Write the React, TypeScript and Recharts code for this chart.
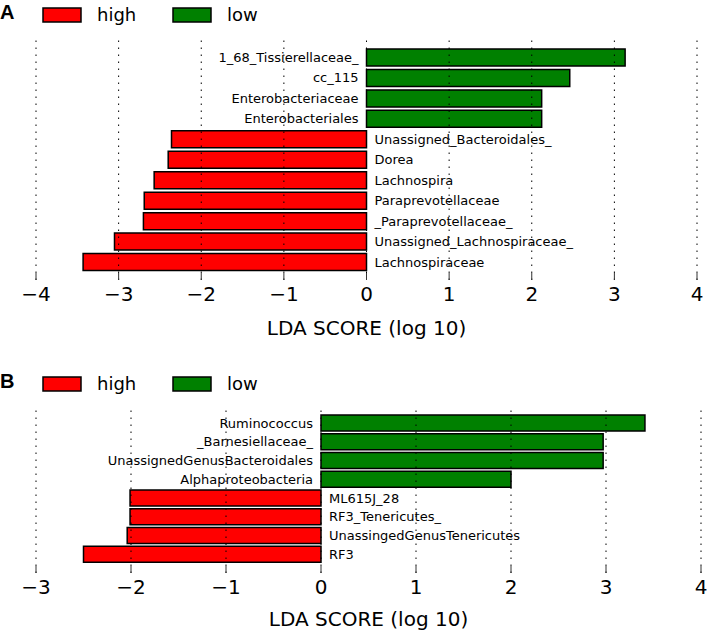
import React from "react";
import { BarChart, Bar, XAxis, YAxis, Cell, ReferenceLine, LabelList, Legend } from "recharts";

// panel A
const taxaA = [
  "1_68_Tissierellaceae_",
  "cc_115",
  "Enterobacteriaceae",
  "Enterobacteriales",
  "Unassigned_Bacteroidales_",
  "Dorea",
  "Lachnospira",
  "Paraprevotellaceae",
  "_Paraprevotellaceae_",
  "Unassigned_Lachnospiraceae_",
  "Lachnospiraceae",
];
const scoresA = [3.13, 2.46, 2.12, 2.12, -2.36, -2.4, -2.57, -2.69, -2.7, -3.05, -3.43];
const ticksA = [-4, -3, -2, -1, 0, 1, 2, 3, 4];

// panel B
const taxaB = [
  "Ruminococcus",
  "_Barnesiellaceae_",
  "UnassignedGenusBacteroidales",
  "Alphaproteobacteria",
  "ML615J_28",
  "RF3_Tenericutes_",
  "UnassingedGenusTenericutes",
  "RF3",
];
const scoresB = [3.41, 2.97, 2.97, 2.0, -2.01, -2.01, -2.04, -2.5];
const ticksB = [-3, -2, -1, 0, 1, 2, 3, 4];

const groups = ["high", "low"];
const groupColors = ["#ff0000", "#008000"];

const FONT = "DejaVu Sans";
const fmt = (v: number) => (v < 0 ? `\u2212${-v}` : `${v}`);

function LegendBox({ letter }: { letter: string }) {
  return (
    <svg width={280} height={30}>
      <text x={0} y={19} fontSize={20} fontWeight="bold" fontFamily="Liberation Sans, Arial">
        {letter}
      </text>
      {groups.map((g, i) => (
        <g key={g}>
          <rect x={43 + i * 130} y={8} width={38} height={14} fill={groupColors[i]} stroke="#000" strokeWidth={1.5} />
          <text x={97 + i * 130} y={21} fontSize={18} fontFamily={FONT} fill="#000">
            {g}
          </text>
        </g>
      ))}
    </svg>
  );
}

// top ticks point down into the plot, like the bottom ones point up
const TopTick = (props: any) => (
  <line x1={props.x} x2={props.x} y1={props.y} y2={props.y + 7} stroke="#333" strokeWidth={1} />
);

interface PanelProps {
  letter: string;
  taxa: string[];
  scores: number[];
  ticks: number[];
  height: number;
  margin: { top: number; right: number; bottom: number; left: number };
  axisHeight: number;
  barSize: number;
  padding: { top: number; bottom: number };
  legendTop: number;
  titleOffset: number;
}

function Panel(p: PanelProps) {
  const rows = p.taxa.map((name, i) => ({ name, score: p.scores[i] }));
  const domain = [p.ticks[0], p.ticks[p.ticks.length - 1]];

  const renderTaxon = (props: any) => {
    const vb = props.viewBox || props;
    const x = Number(vb.x);
    const w = Number(vb.width);
    const y = Number(vb.y);
    const h = Number(vb.height);
    const score = rows[props.index]?.score ?? 0;
    const pos = score >= 0;
    const zero = pos ? Math.min(x, x + w) : Math.max(x, x + w);
    return (
      <text
        x={pos ? zero - 8 : zero + 8}
        y={y + h / 2}
        textAnchor={pos ? "end" : "start"}
        dominantBaseline="central"
        fontSize={13}
        fontFamily={FONT}
        fill="#000"
      >
        {props.value}
      </text>
    );
  };

  return (
    <BarChart
      width={709}
      height={p.height}
      data={rows}
      layout="vertical"
      margin={p.margin}
      barSize={p.barSize}
      style={{ fontFamily: FONT }}
    >
      <XAxis
        type="number"
        domain={domain}
        ticks={p.ticks}
        tickFormatter={fmt}
        axisLine={false}
        tickSize={-7}
        tickMargin={14}
        tickLine={{ stroke: "#333" }}
        tick={{ fontSize: 20, fill: "#000", fontFamily: FONT }}
        height={p.axisHeight}
        label={{
          value: "LDA SCORE (log 10)",
          position: "insideBottom",
          offset: p.titleOffset,
          fontSize: 20,
          fill: "#000",
          fontFamily: FONT,
        }}
      />
      <XAxis
        xAxisId="top"
        orientation="top"
        type="number"
        domain={domain}
        ticks={p.ticks}
        axisLine={false}
        tickLine={false}
        tickSize={0}
        tickMargin={0}
        tick={TopTick}
        height={1}
      />
      <YAxis type="category" dataKey="name" hide padding={p.padding} />
      <Legend
        layout="horizontal"
        verticalAlign="middle"
        align="center"
        wrapperStyle={{ top: p.legendTop, left: 0, width: 280, height: 30 }}
        content={() => <LegendBox letter={p.letter} />}
      />
      <Bar dataKey="score" isAnimationActive={false} stroke="#000" strokeWidth={1.5}>
        {rows.map((r) => (
          <Cell key={r.name} fill={r.score < 0 ? groupColors[0] : groupColors[1]} />
        ))}
        <LabelList dataKey="name" content={renderTaxon} />
      </Bar>
      {p.ticks.map((t) => (
        <ReferenceLine key={t} x={t} stroke="#000" strokeWidth={1} strokeDasharray="1.5 5.5" />
      ))}
    </BarChart>
  );
}

export default function App() {
  return (
    <div style={{ position: "absolute", left: 0, top: 0, width: 709, height: 632, background: "#fff" }}>
      <Panel
        letter="A"
        taxa={taxaA}
        scores={scoresA}
        ticks={ticksA}
        height={345}
        margin={{ top: 36, right: 12, bottom: 5, left: 36 }}
        axisHeight={60}
        barSize={17}
        padding={{ top: 10, bottom: 8 }}
        legendTop={0}
        titleOffset={5}
      />
      <Panel
        letter="B"
        taxa={taxaB}
        scores={scoresB}
        ticks={ticksB}
        height={287}
        margin={{ top: 60, right: 8, bottom: 5, left: 36 }}
        axisHeight={54}
        barSize={16}
        padding={{ top: 8, bottom: 9 }}
        legendTop={24}
        titleOffset={1}
      />
    </div>
  );
}
